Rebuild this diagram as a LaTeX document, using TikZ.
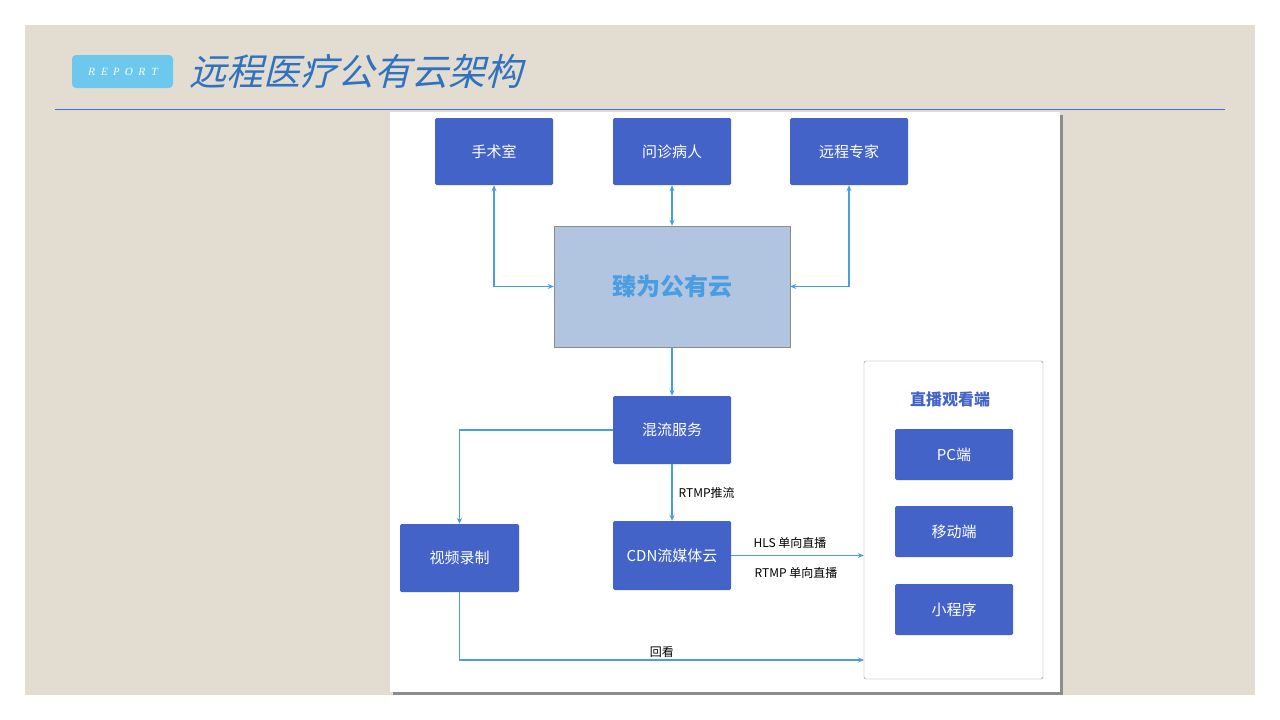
\documentclass[tikz,border=0pt]{standalone}
\usepackage{fontspec}
\setmainfont{Noto Sans CJK SC}
\newfontfamily\slantcjk[FakeSlant=0.25]{Noto Sans CJK SC}
\newfontfamily\slantserif[FakeSlant=0.2]{Liberation Serif}
\usetikzlibrary{arrows.meta}
\definecolor{beige}{HTML}{E3DDD1}
\definecolor{boxblue}{HTML}{4363C9}
\definecolor{linkblue}{HTML}{4A9DE0}
\definecolor{cloudfill}{HTML}{B1C5E1}
\definecolor{titleblue}{HTML}{2F72C0}
\definecolor{badgeblue}{HTML}{6CC8EC}
\definecolor{ruleblue}{HTML}{3D6FD6}
\tikzset{
 x=1pt,y=-1pt,
 bx/.style={draw=none,fill=boxblue,rounded corners=1.5pt,text=white,font=\fontsize{15}{17}\selectfont,inner sep=0pt},
 lk/.style={draw=linkblue,line width=1.3pt,-{Stealth[length=6pt,width=5pt]}},
 lkb/.style={draw=linkblue,line width=1.3pt,{Stealth[length=6pt,width=5pt]}-{Stealth[length=6pt,width=5pt]}},
 lbl/.style={font=\fontsize{12}{14}\selectfont,text=black,inner sep=1pt}
}
\begin{document}
\begin{tikzpicture}
\useasboundingbox (0,0) rectangle (1280,720);
\fill[white] (0,0) rectangle (1280,720);
\fill[beige] (25,25) rectangle (1255,695);
% title
\node[fill=badgeblue,rounded corners=4pt,minimum width=101pt,minimum height=33pt,text=white,font=\slantserif\fontsize{11}{12}\selectfont] (badge) at (122.5,71.5) {R\ \ E\ \ P\ \ O\ \ R\ \ T};
\node[anchor=west,text=titleblue,font=\slantcjk\fontsize{37}{40}\selectfont,inner sep=0pt] (title) at (189,71) {远程医疗公有云架构};
\draw[ruleblue,line width=1pt] (55,109) -- (1225,109);
% inner white image
\fill[black!45] (393,115) rectangle (1063,695);
\fill[white] (390,112) rectangle (1060,692);
% boxes
\node[bx,minimum width=118pt,minimum height=67pt] (ss) at (494,151.5) {手术室};
\node[bx,minimum width=118pt,minimum height=67pt] (wz) at (672,151.5) {问诊病人};
\node[bx,minimum width=118pt,minimum height=67pt] (zj) at (849,151.5) {远程专家};
\node[draw=black!45,fill=cloudfill,minimum width=236pt,minimum height=121pt,text=linkblue,font=\fontsize{24}{26}\selectfont\bfseries,inner sep=0pt] (cloud) at (672,286.5) {臻为公有云};
\node[bx,minimum width=118pt,minimum height=68pt] (hl) at (672,430) {混流服务};
\node[bx,minimum width=118pt,minimum height=69pt] (cdn) at (672,555.5) {CDN流媒体云};
\node[bx,minimum width=119pt,minimum height=68pt] (sp) at (459.5,558) {视频录制};
\node[draw=black!45,fill=white,rounded corners=1.5pt,minimum width=179pt,minimum height=318pt,inner sep=0pt] (panel) at (953.5,520) {};
\node[text=boxblue,font=\fontsize{16}{18}\selectfont\bfseries,inner sep=0pt] (zb) at (950,399) {直播观看端};
\node[bx,minimum width=118pt,minimum height=51pt] (pc) at (954,454.5) {PC端};
\node[bx,minimum width=118pt,minimum height=51pt] (yd) at (954,531.5) {移动端};
\node[bx,minimum width=118pt,minimum height=51pt] (xc) at (954,609.5) {小程序};
% links
\draw[lkb] (ss.south) |- (cloud.west);
\draw[lkb] (wz.south) -- (cloud.north);
\draw[lkb] (zj.south) |- (cloud.east);
\draw[lk] (cloud.south) -- (hl.north);
\draw[lk] (hl.south) -- node[lbl,right=5pt] {RTMP推流} (cdn.north);
\draw[lk] (hl.west) -| (sp.north);
\draw[lk] (cdn.east) -- (panel.west |- cdn.east);
\node[lbl] (hls) at (790,543) {HLS 单向直播};
\node[lbl] (rtmp) at (796,573) {RTMP 单向直播};
\coordinate (hk) at (864,660);
\draw[lk] (sp.south) |- node[lbl,pos=0.75,above=1pt] {回看} (hk);
\end{tikzpicture}
\end{document}
